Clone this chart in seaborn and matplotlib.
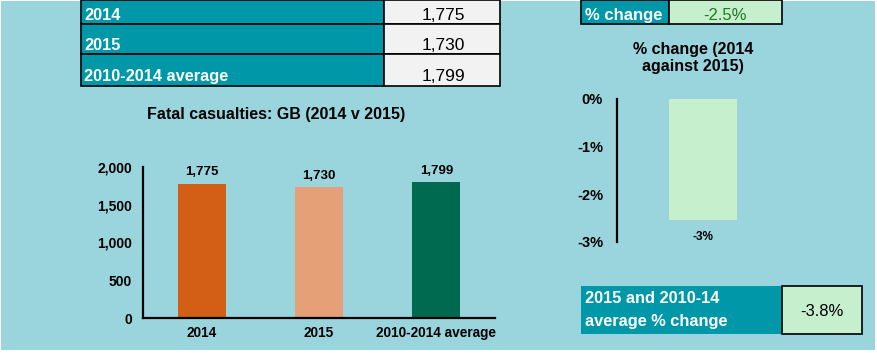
import matplotlib.pyplot as plt
import matplotlib.patches as mpatches
import pandas as pd
import seaborn as sns

# data
periods = ["2014", "2015", "2010-2014 average"]
fatalities = [1775, 1730, 1799]
bar_colors = ["#D35F17", "#E5A077", "#006A50"]
pct_change = -2.53          # 2015 vs 2014
avg_pct_change = -3.8       # 2015 vs 2010-14 average

BG = "#9AD5DE"
TEAL = "#0098A8"
GREEN = "#C6EFCE"
CELL = "#F2F2F2"

sns.set_style("white")
plt.rcParams["font.family"] = ["Liberation Sans", "DejaVu Sans"]
plt.rcParams["text.color"] = "black"
plt.rcParams["xtick.color"] = "black"
plt.rcParams["ytick.color"] = "black"

W, H = 877, 353
fig = plt.figure(figsize=(W / 100, H / 100), dpi=100, facecolor="white")

# pixel-space layer for the spreadsheet cells
bg = fig.add_axes([0, 0, 1, 1])
bg.set_xlim(0, W)
bg.set_ylim(H, 0)
bg.axis("off")
bg.add_patch(mpatches.Rectangle((1, 1), W - 3, H - 4, facecolor=BG, edgecolor="none"))


def cell(x0, y0, x1, y1, color, lw=1.2):
    bg.add_patch(mpatches.Rectangle((x0, y0), x1 - x0, y1 - y0, facecolor=color,
                                    edgecolor="black", linewidth=lw))


# summary table
rows = [(0, 24, 20), (24, 54, 50), (54, 86, 81)]
for (y0, y1, base), label, val in zip(rows, periods, fatalities):
    cell(81, y0, 384, y1, TEAL)
    cell(384, y0, 500, y1, CELL)
    bg.text(84, base, label, color="white", fontsize=11.8, fontweight="bold", va="baseline")
    bg.text(443, base, f"{val:,}", color="black", fontsize=12.5, ha="center", va="baseline")

# % change cell
cell(581, 0, 669, 24, TEAL)
cell(669, 0, 782, 24, GREEN)
bg.text(585, 20, "% change", color="white", fontsize=12, fontweight="bold", va="baseline")
bg.text(725, 19.5, f"{pct_change:.1f}%", color="#1F7A1F", fontsize=12, ha="center", va="baseline")

# average % change cell
bg.add_patch(mpatches.Rectangle((581, 286), 201, 48, facecolor=TEAL, edgecolor="none"))
cell(782, 286, 862, 334, GREEN)
bg.text(585, 303, "2015 and 2010-14", color="white", fontsize=11.8, fontweight="bold", va="baseline")
bg.text(585, 326, "average % change", color="white", fontsize=11.8, fontweight="bold", va="baseline")
bg.text(822, 311, f"{avg_pct_change:.1f}%", color="black", fontsize=12, ha="center", va="center")

# titles
bg.text(276, 115, "Fatal casualties: GB (2014 v 2015)", fontsize=11.5, fontweight="bold",
        ha="center", va="center")
bg.text(693, 58, "% change (2014\nagainst 2015)", fontsize=11.5, fontweight="bold",
        ha="center", va="center", linespacing=1.2)


def px_axes(x0, y0, x1, y1):
    ax = fig.add_axes([x0 / W, 1 - y1 / H, (x1 - x0) / W, (y1 - y0) / H])
    ax.set_facecolor("none")
    return ax


# main bar chart
ax = px_axes(143, 167, 495, 318)
df = pd.DataFrame({"period": periods, "fatalities": fatalities})
sns.barplot(data=df, x="period", y="fatalities", hue="period", palette=bar_colors,
            width=0.41, saturation=1, legend=False, linewidth=0, ax=ax)
ax.set_ylim(0, 2000)
ax.set_xlim(-0.5, 2.5)
ax.set_yticks([0, 500, 1000, 1500, 2000])
ax.set_yticklabels([f"{t:,}" for t in [0, 500, 1000, 1500, 2000]])
ax.set_xlabel("")
ax.set_ylabel("")
for c in ax.containers:
    ax.bar_label(c, fmt="{:,.0f}", padding=4, fontsize=9.5, fontweight="bold", color="black")
ax.tick_params(axis="y", length=0, pad=8, labelsize=10)
ax.tick_params(axis="x", length=0, pad=6, labelsize=9.8)
for lab in ax.get_xticklabels() + ax.get_yticklabels():
    lab.set_fontweight("bold")
for s in ["top", "right"]:
    ax.spines[s].set_visible(False)
for s in ["left", "bottom"]:
    ax.spines[s].set_color("black")
    ax.spines[s].set_linewidth(1.6)

# % change chart
ax2 = px_axes(617, 99, 789, 242)
sns.barplot(x=["% change"], y=[pct_change], color=GREEN, width=0.4, saturation=1,
            linewidth=0, ax=ax2)
ax2.set_ylim(-3, 0)
ax2.set_xlim(-0.5, 0.5)
ax2.set_yticks([0, -1, -2, -3])
ax2.set_yticklabels([f"{t}%" for t in [0, -1, -2, -3]])
ax2.set_xticks([])
ax2.set_xlabel("")
ax2.set_ylabel("")
ax2.bar_label(ax2.containers[0], fmt="{:.0f}%", padding=8, fontsize=8.5, fontweight="bold",
              color="black")
ax2.tick_params(axis="y", length=0, pad=10, labelsize=10.5)
for lab in ax2.get_yticklabels():
    lab.set_fontweight("bold")
for s in ["top", "right", "bottom"]:
    ax2.spines[s].set_visible(False)
ax2.spines["left"].set_color("black")
ax2.spines["left"].set_linewidth(1.6)

fig.savefig("out.png", dpi=100, facecolor="white")
